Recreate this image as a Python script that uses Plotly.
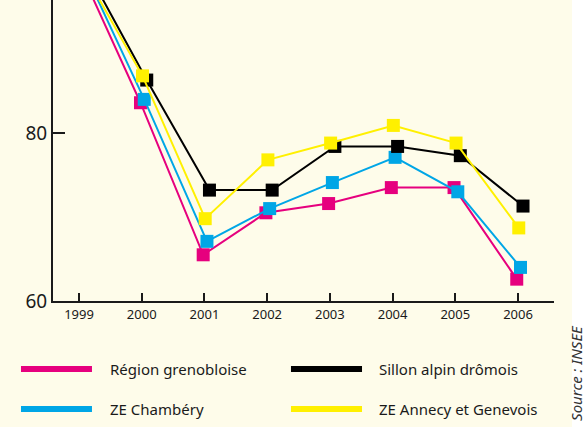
import plotly.graph_objects as go

years = [1999, 2000, 2001, 2002, 2003, 2004, 2005, 2006]
series_names = ["Région grenobloise", "Sillon alpin drômois", "ZE Chambéry", "ZE Annecy et Genevois"]
grenoble = [100, 83.6, 65.5, 70.5, 71.6, 73.5, 73.5, 62.6]
sillon = [100, 86.3, 73.2, 73.2, 78.4, 78.4, 77.3, 71.3]
chambery = [100, 84.0, 67.1, 71.0, 74.1, 77.1, 73.0, 64.0]
annecy = [100, 86.8, 69.8, 76.8, 78.8, 80.9, 78.8, 68.7]
y_ticks = [60, 80, 100]
source_text = "Source : INSEE"

colors = {"Région grenobloise": "#E6007E", "Sillon alpin drômois": "#000000",
          "ZE Chambéry": "#00A6E6", "ZE Annecy et Genevois": "#FFF000"}
values = {"Région grenobloise": grenoble, "Sillon alpin drômois": sillon,
          "ZE Chambéry": chambery, "ZE Annecy et Genevois": annecy}
dodge = {"Région grenobloise": -0.02, "Sillon alpin drômois": 0.08,
         "ZE Chambéry": 0.04, "ZE Annecy et Genevois": 0.012}
draw_order = ["Région grenobloise", "ZE Chambéry", "Sillon alpin drômois", "ZE Annecy et Genevois"]

FONT = "Noto Sans"
BG = "#FEFCEA"

fig = go.Figure()
for name in draw_order:
    fig.add_trace(go.Scatter(
        x=[yr + dodge[name] for yr in years], y=values[name], mode="lines+markers", name=name,
        line=dict(color=colors[name], width=2),
        marker=dict(symbol="square", size=13, color=colors[name]),
        cliponaxis=True, showlegend=False))

# custom legend (two columns)
legend_pos = {"Région grenobloise": (-0.0639, 0.0778, 0.1098, -0.2259),
              "Sillon alpin drômois": (0.4750, 0.6168, 0.6467, -0.2259),
              "ZE Chambéry": (-0.0639, 0.0778, 0.1098, -0.3588),
              "ZE Annecy et Genevois": (0.4750, 0.6168, 0.6467, -0.3588)}
shapes = []
annotations = []
for name in series_names:
    x0, x1, xt, yy = legend_pos[name]
    shapes.append(dict(type="line", xref="paper", yref="paper", x0=x0, x1=x1, y0=yy, y1=yy,
                       line=dict(color=colors[name], width=6)))
    annotations.append(dict(xref="paper", yref="paper", x=xt, y=yy, text=name, showarrow=False,
                            xanchor="left", yanchor="middle",
                            font=dict(family=FONT, size=15, color="#1a1a1a")))

# white strip at right edge
shapes.append(dict(type="rect", xref="paper", yref="paper", x0=1.0359, x1=1.2, y0=-1, y1=2,
                   fillcolor="white", line=dict(width=0), layer="below"))
annotations.append(dict(xref="paper", yref="paper", x=1.044, y=-0.405, text="<i>" + source_text + "</i>",
                        showarrow=False, textangle=-90, xanchor="center", yanchor="bottom",
                        font=dict(family=FONT, size=15, color="#333333")))

fig.update_layout(
    width=585, height=427,
    margin=dict(l=53, r=31, t=0, b=126),
    paper_bgcolor=BG, plot_bgcolor=BG,
    showlegend=False,
    shapes=shapes, annotations=annotations,
    xaxis=dict(range=[1998.585, 2006.574], tickmode="array", tickvals=years,
               ticktext=[str(y) for y in years], ticks="inside", ticklen=8, tickwidth=2,
               tickcolor="#1a1a1a", showline=True, linecolor="#1a1a1a", linewidth=2,
               showgrid=False, zeroline=False,
               tickfont=dict(family=FONT, size=13, color="#1a1a1a")),
    yaxis=dict(range=[60, 95.83], tickmode="array", tickvals=y_ticks,
               ticks="inside", ticklen=12, tickwidth=2, tickcolor="#1a1a1a",
               showline=True, linecolor="#1a1a1a", linewidth=2,
               showgrid=False, zeroline=False,
               tickfont=dict(family=FONT, size=19, color="#1a1a1a")),
)

fig.write_html("out.html", config={"displayModeBar": False},
               post_script="document.body.style.margin='0';document.body.style.padding='0';")
